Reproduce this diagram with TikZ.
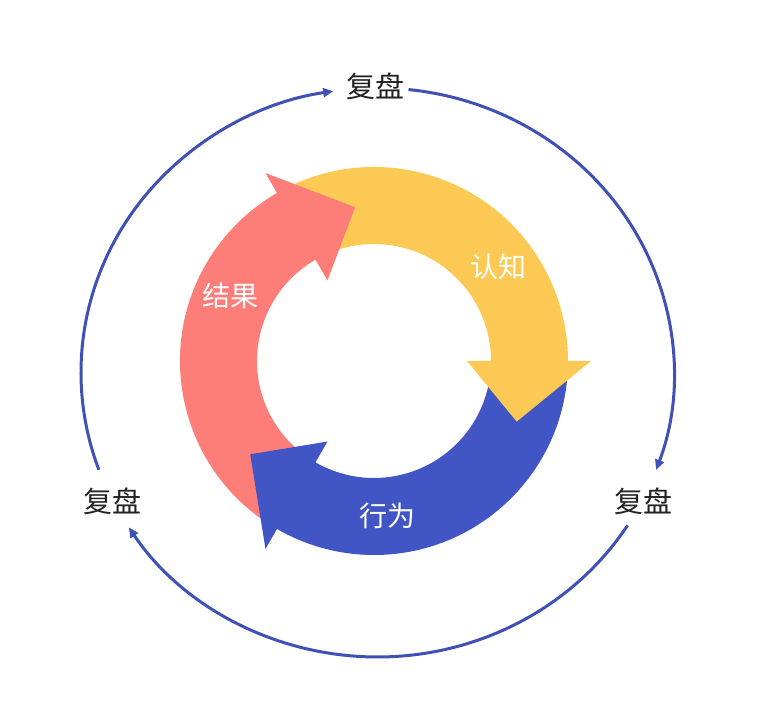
\documentclass[tikz,border=0pt]{standalone}
\usepackage{fontspec}
\newfontfamily\cjk{Noto Sans CJK SC}
\usetikzlibrary{arrows.meta,calc}
\definecolor{ringY}{RGB}{252,201,84}
\definecolor{ringR}{RGB}{253,126,121}
\definecolor{ringB}{RGB}{66,85,196}
\definecolor{loopB}{RGB}{64,81,181}
\definecolor{txt}{RGB}{34,34,34}
\begin{document}
\begin{tikzpicture}[x=1bp,y=1bp,
  loop/.style={draw=loopB,line width=3bp,-{Triangle[length=10bp,width=9bp]}},
  outlbl/.style={font=\cjk\fontsize{29bp}{30bp}\selectfont,text=txt,inner sep=0pt},
  inlbl/.style={font=\cjk\fontsize{28bp}{30bp}\selectfont,text=white,inner sep=0pt}]
\useasboundingbox (-374,-359) rectangle (383,361);
\fill[white] (-374,-359) rectangle (383,361);
% ring bodies (each runs slightly under its own head)
\foreach \a/\c in {0/ringY,120/ringR,240/ringB}{
  \fill[\c] (\a+119:194) arc[start angle=\a+119,end angle=\a-1.5,radius=194]
     -- (\a-1.5:117) arc[start angle=\a-1.5,end angle=\a+119,radius=117] -- cycle;
}
% ring heads
\foreach \a/\c in {0/ringY,120/ringR,240/ringB}{
  \fill[\c] (\a:217) -- (\a-23:155) -- (\a:93) -- cycle;
}
% labels
\node[inlbl] (cog) at (124,94) {认知};
\node[inlbl] (res) at (-143,65) {结果};
\node[inlbl] (act) at (13,-155) {行为};
\node[outlbl] (rTop) at (1,275) {复盘};
\node[outlbl] (rLeft) at (-261,-140) {复盘};
\node[outlbl] (rRight) at (269,-140) {复盘};
% outer loop
\coordinate (E) at (3.5,-11.5);
\coordinate (p1) at ($(E)+(200:296.5 and 284.5)$);
\coordinate (p2) at ($(E)+(84:296.5 and 284.5)$);
\coordinate (p3) at ($(E)+(-32.5:296.5 and 284.5)$);
\draw[loop] (p1) arc[start angle=200,end angle=98.6,x radius=296.5,y radius=284.5];
\draw[loop] (p2) arc[start angle=84,end angle=-20,x radius=296.5,y radius=284.5];
\draw[loop] (p3) arc[start angle=-32.5,end angle=-147,x radius=296.5,y radius=284.5];
\end{tikzpicture}
\end{document}
